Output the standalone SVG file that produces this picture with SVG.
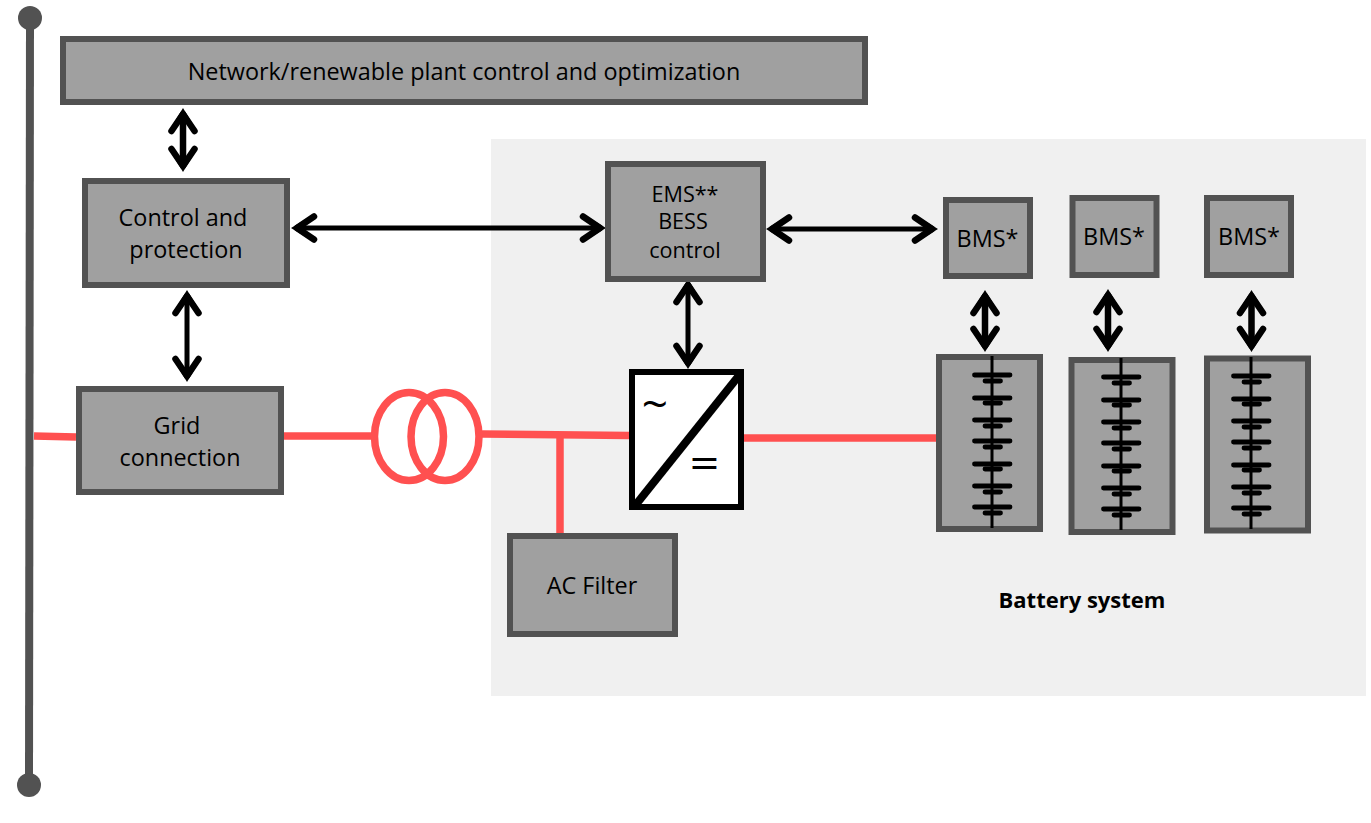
<svg xmlns="http://www.w3.org/2000/svg" width="1371" height="823" viewBox="0 0 1371 823">
<style>
text{font-family:"Open Sans","Noto Sans",sans-serif;font-size:23.400px;fill:#000;text-anchor:middle}
.small{font-size:21.600px}
.box{fill:#a0a0a0;stroke:#525252;stroke-width:6}
.arrow{fill:none;stroke:#000;stroke-width:5;marker-start:url(#head);marker-end:url(#head)}
.thick{stroke-width:6.500}
.red{fill:none;stroke:#ff5050;stroke-width:7.5}
.plate{stroke:#000;stroke-width:4.800;stroke-linecap:round;fill:none}
</style>
<defs>
<marker id="head" markerUnits="userSpaceOnUse" orient="auto-start-reverse" viewBox="-30 -16 34 32" refX="-5" refY="0" markerWidth="34" markerHeight="32">
<path d="M1 0L-17 -11L-14 -2.500V2.500L-17 11Z" fill="#000"/>
<path d="M-22 -11.500L-5 0L-22 11.500" fill="none" stroke="#000" stroke-width="6.500" stroke-linecap="round" stroke-linejoin="round"/>
</marker>
<g id="stack">
<path d="M992 356V528" stroke="#000" stroke-width="3"/>
<path class="plate" d="M974.500 375H1010M974.500 398H1010M974.500 420H1010M974.500 441H1010M974.500 464H1010M974.500 486H1010M974.500 507H1010"/>
<path class="plate" d="M985 381H1000.500M985 403H1000.500M985 426H1000.500M985 447H1000.500M985 469H1000.500M985 492H1000.500M985 513H1000.500"/>
</g>
</defs>
<rect id="battery-area" x="491" y="139" width="875" height="557" fill="#f0f0f0"/>
<g id="bus">
<path d="M30 18L29 785" stroke="#525252" stroke-width="8" fill="none"/>
<circle cx="30" cy="18" r="12" fill="#525252"/>
<circle cx="29" cy="785" r="12" fill="#525252"/>
</g>
<g id="connectors">
<path class="red" d="M34 436L76 437"/>
<path class="red" d="M284 436H372"/>
<path class="red" d="M482 434L629 435.5"/>
<path class="red" d="M560 435V534"/>
<path class="red" d="M744 438H936"/>
<path class="arrow thick" d="M183 114V166"/>
<path class="arrow" d="M187 296V376"/>
<path class="arrow" d="M297 228H600"/>
<path class="arrow" d="M772 229H932"/>
<path class="arrow" d="M688 285V363"/>
<path class="arrow thick" d="M985 296V346"/>
<path class="arrow thick" d="M1108 295V346"/>
<path class="arrow thick" d="M1251.5 296V346"/>
</g>
<g id="network-control"><rect class="box" x="63" y="39" width="802" height="63"/><text x="464" y="80">Network/renewable plant control and optimization</text></g>
<g id="control-protection"><rect class="box" x="85" y="181" width="202" height="104"/><text x="183" y="226">Control and</text><text x="186" y="258">protection</text></g>
<g id="grid-connection"><rect class="box" x="79" y="389" width="202" height="103"/><text x="177" y="434">Grid</text><text x="180" y="466">connection</text></g>
<g id="transformer"><ellipse class="red" cx="409" cy="436.500" rx="34.500" ry="44"/><ellipse class="red" cx="445" cy="436.500" rx="34" ry="44"/></g>
<g id="ems"><rect class="box" x="608" y="164" width="155" height="115"/><text class="small" x="685" y="202">EMS**</text><text class="small" x="683" y="229">BESS</text><text class="small" x="685" y="258">control</text></g>
<g id="converter"><rect x="632" y="372" width="109" height="135" fill="#fff" stroke="#000" stroke-width="6"/><path d="M634 507L741 373" stroke="#000" stroke-width="8" fill="none"/><text x="655" y="420" style="font-size:46px">~</text><text x="704.500" y="475" style="font-size:38px;font-family:'DejaVu Sans',sans-serif">=</text></g>
<g id="ac-filter"><rect class="box" x="510" y="536" width="165" height="98"/><text x="592" y="594">AC Filter</text></g>
<g id="bms-1"><rect class="box" x="946" y="200" width="84" height="76"/><text x="987.500" y="247">BMS*</text></g>
<g id="bms-2"><rect class="box" x="1072.500" y="198" width="84" height="77"/><text x="1114" y="245">BMS*</text></g>
<g id="bms-3"><rect class="box" x="1207" y="198" width="84" height="77"/><text x="1249" y="245">BMS*</text></g>
<g id="battery-1"><rect class="box" x="939" y="357" width="101" height="172"/><use href="#stack"/></g>
<g id="battery-2"><rect class="box" x="1071.500" y="360" width="101" height="172"/><use href="#stack" transform="translate(129 2)"/></g>
<g id="battery-3"><rect class="box" x="1207" y="358.500" width="101" height="172"/><use href="#stack" transform="translate(259 1)"/></g>
<text id="battery-label" x="1082" y="608" style="font-weight:700;font-size:22px">Battery system</text>
</svg>
